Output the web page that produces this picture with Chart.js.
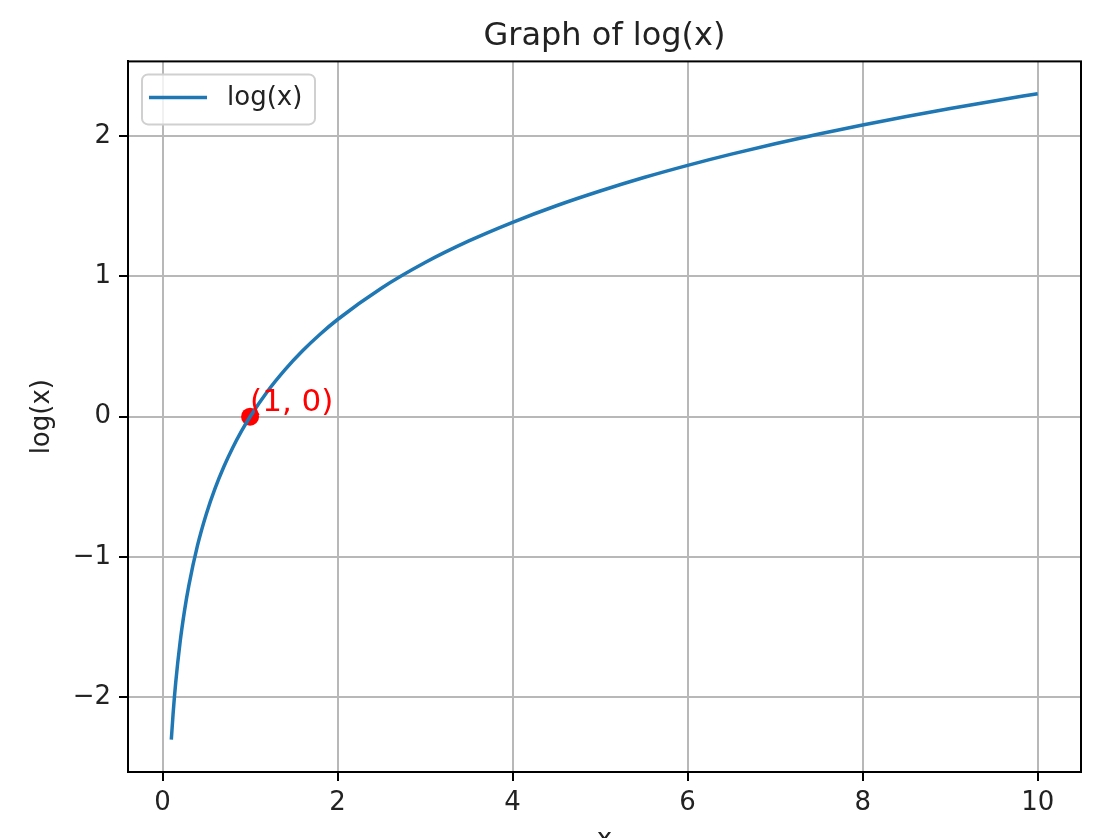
<!DOCTYPE html>
<html>
<head>
<meta charset="utf-8">
<title>Graph of log(x)</title>
<script src="https://cdn.jsdelivr.net/npm/chart.js@4.4.1/dist/chart.umd.min.js"></script>
<style>
    body { margin: 0; background: #fff; }
    canvas { display: block; }
</style>
</head>
<body>
<canvas id="logChart" width="1112" height="838"></canvas>
<script>
// Values
const xValues = [0.1, 0.12, 0.15, 0.2, 0.25, 0.3, 0.4, 0.5, 0.6, 0.7, 0.8, 0.9, 1, 1.2, 1.4, 1.6, 1.8, 2, 2.5, 3, 3.5, 4, 4.5, 5, 5.5, 6, 6.5, 7, 7.5, 8, 8.5, 9, 9.5, 10];
const yValues = [-2.303, -2.120, -1.897, -1.609, -1.386, -1.204, -0.916, -0.693, -0.511, -0.357, -0.223, -0.105, 0, 0.182, 0.336, 0.470, 0.588, 0.693, 0.916, 1.099, 1.253, 1.386, 1.504, 1.609, 1.705, 1.792, 1.872, 1.946, 2.015, 2.079, 2.140, 2.197, 2.251, 2.303];

// Highlighted point and its label
const markX = [1];
const markY = [0];
const markLabel = '(1, 0)';

// Tick labels
const xTicks = [0, 2, 4, 6, 8, 10];
const yTicks = [-2, -1, 0, 1, 2];

const font = 'DejaVu Sans';

// Draws the frame, legend and point label like matplotlib does
const extrasPlugin = {
    id: 'extras',
    afterDraw(chart) {
        const ctx = chart.ctx;
        const area = chart.chartArea;
        const xs = chart.scales.x;
        const ys = chart.scales.y;
        ctx.save();

        // Frame around the axes
        ctx.strokeStyle = '#000';
        ctx.lineWidth = 2;
        ctx.strokeRect(area.left, area.top, area.right - area.left, area.bottom - area.top);

        // Point label
        ctx.fillStyle = 'red';
        ctx.font = '31px "' + font + '"';
        ctx.textAlign = 'left';
        ctx.textBaseline = 'alphabetic';
        ctx.fillText(markLabel, xs.getPixelForValue(markX[0]), ys.getPixelForValue(markY[0]) - 6);

        // Legend box
        const bx = area.left + 14, by = area.top + 13, bw = 173, bh = 50, r = 6;
        ctx.beginPath();
        ctx.roundRect(bx, by, bw, bh, r);
        ctx.fillStyle = 'rgba(255,255,255,0.8)';
        ctx.fill();
        ctx.strokeStyle = '#d0d0d0';
        ctx.lineWidth = 2;
        ctx.stroke();

        ctx.beginPath();
        ctx.moveTo(bx + 7, by + 23);
        ctx.lineTo(bx + 65, by + 23);
        ctx.strokeStyle = '#1f77b4';
        ctx.lineWidth = 3.5;
        ctx.stroke();

        ctx.fillStyle = '#222';
        ctx.font = '26px "' + font + '"';
        ctx.textBaseline = 'middle';
        ctx.fillText('log(x)', bx + 85, by + 24);

        ctx.restore();
    }
};

const ctx = document.getElementById('logChart').getContext('2d');
new Chart(ctx, {
    type: 'scatter',
    data: {
        datasets: [
            {
                label: 'log(x)',
                type: 'line',
                data: xValues.map((x, i) => ({ x: x, y: yValues[i] })),
                borderColor: '#1f77b4',
                borderWidth: 3.5,
                pointRadius: 0,
                cubicInterpolationMode: 'monotone',
                fill: false,
            },
            {
                label: 'point',
                data: markX.map((x, i) => ({ x: x, y: markY[i] })),
                backgroundColor: 'red',
                borderWidth: 0,
                pointRadius: 9,
            },
        ],
    },
    options: {
        responsive: false,
        animation: false,
        layout: {
            padding: { left: 0, right: 31, top: 0, bottom: 0 },
        },
        plugins: {
            legend: { display: false },
            tooltip: { enabled: false },
            title: {
                display: true,
                fullSize: false,
                text: 'Graph of log(x)',
                color: '#222',
                font: { family: font, size: 32, weight: 'normal' },
                padding: { top: 17, bottom: 6 },
            },
        },
        scales: {
            x: {
                type: 'linear',
                min: -0.395,
                max: 10.495,
                afterBuildTicks: (scale) => { scale.ticks = xTicks.map(v => ({ value: v })); },
                afterFit: (scale) => { scale.height = 66; },
                ticks: {
                    color: '#222',
                    font: { family: font, size: 26 },
                    padding: 7,
                    maxRotation: 0,
                },
                grid: {
                    color: '#b8b8b8',
                    lineWidth: 2,
                    tickColor: '#000',
                    tickWidth: 2,
                    tickLength: 9,
                },
                border: { color: '#000', width: 2 },
                title: {
                    display: true,
                    text: 'x',
                    color: '#222',
                    font: { family: font, size: 26 },
                    padding: { top: 0, bottom: -18 },
                },
            },
            y: {
                min: -2.533,
                max: 2.533,
                afterBuildTicks: (scale) => { scale.ticks = yTicks.map(v => ({ value: v })); },
                afterFit: (scale) => { scale.width = 128; },
                ticks: {
                    color: '#222',
                    font: { family: font, size: 26 },
                    padding: 8,
                    callback: (v) => (v < 0 ? '\u2212' + Math.abs(v) : String(v)),
                },
                grid: {
                    color: '#b8b8b8',
                    lineWidth: 2,
                    tickColor: '#000',
                    tickWidth: 2,
                    tickLength: 9,
                },
                border: { color: '#000', width: 2 },
                title: {
                    display: true,
                    text: 'log(x)',
                    color: '#222',
                    font: { family: font, size: 26 },
                    padding: { top: 27, bottom: 0 },
                },
            },
        },
    },
    plugins: [extrasPlugin],
});
</script>
</body>
</html>
